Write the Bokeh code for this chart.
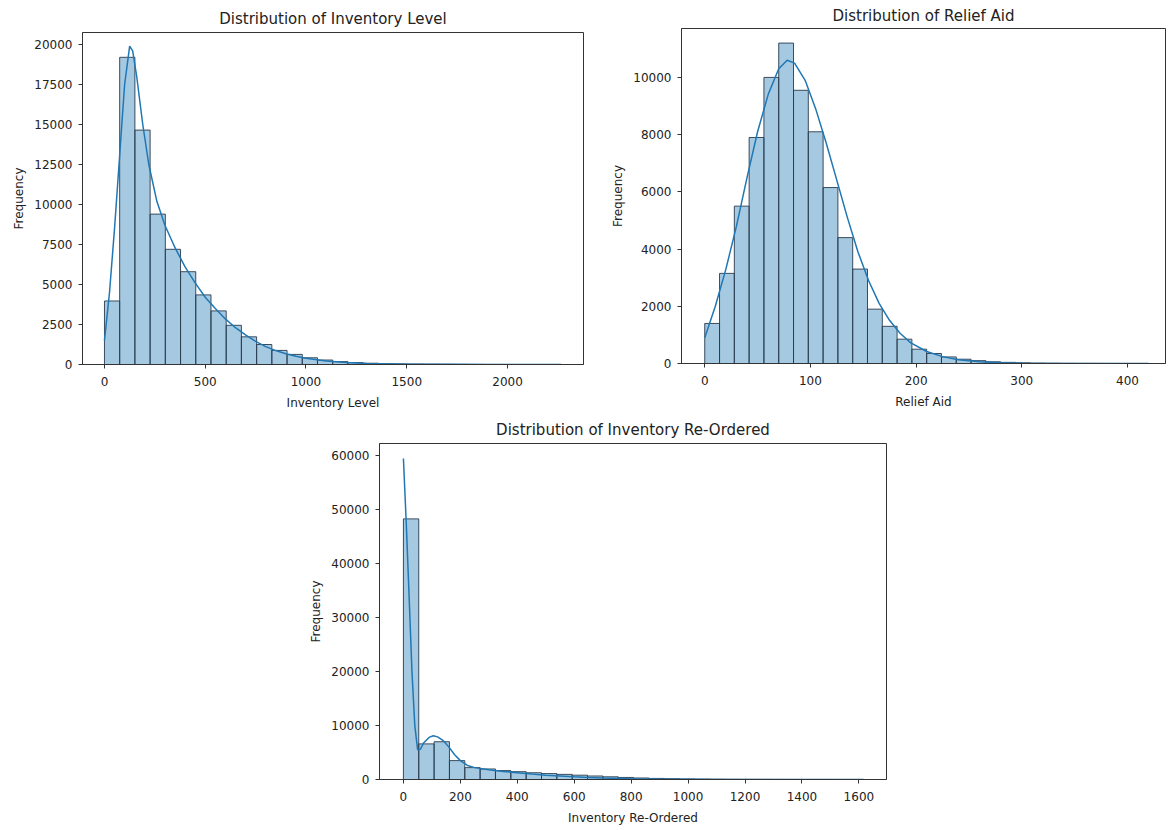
import numpy as np
from bokeh.plotting import figure
from bokeh.models import ColumnDataSource, Range1d, FixedTicker, Spacer, NumeralTickFormatter
from bokeh.layouts import column, row
from bokeh.embed import file_html
from bokeh.resources import INLINE

# ---------------- data ----------------
# Inventory Level (30 bins)
inv_min, inv_max = 0, 2265
inv_counts = [3970, 19200, 14650, 9400, 7200, 5800, 4350, 3350, 2450, 1730,
              1250, 880, 630, 420, 280, 180, 120, 80, 50, 35,
              25, 15, 10, 8, 5, 3, 2, 1, 1, 1]
inv_kde_x = [0, 25, 50, 75, 100, 125, 140, 160, 190, 220, 260, 300, 350, 400, 450,
             500, 550, 600, 650, 700, 750, 800, 850, 900, 950, 1000, 1100, 1200,
             1300, 1400, 1500, 1700, 1900, 2100, 2265]
inv_kde_y = [1500, 4500, 8500, 13000, 17500, 19900, 19600, 18000, 15000, 12500,
             10200, 8700, 7300, 6100, 5100, 4200, 3500, 2850, 2300, 1850, 1450,
             1120, 870, 670, 510, 390, 220, 125, 70, 40, 22, 8, 3, 1, 0.5]

# Relief Aid (30 bins)
aid_min, aid_max = 0, 420
aid_counts = [1400, 3150, 5500, 7900, 10000, 11200, 9550, 8100, 6150, 4400,
              3300, 1900, 1300, 850, 500, 350, 230, 150, 100, 60,
              40, 25, 15, 10, 6, 4, 3, 2, 1, 1]
aid_kde_x = [0, 10, 20, 30, 40, 50, 60, 70, 78, 85, 95, 105, 115, 125, 135, 145,
             155, 165, 175, 185, 195, 210, 225, 240, 260, 280, 300, 330, 360, 420]
aid_kde_y = [900, 2000, 3300, 4800, 6500, 8100, 9400, 10300, 10600, 10500, 9900,
             8900, 7700, 6400, 5100, 3900, 2900, 2100, 1500, 1050, 720, 420, 240,
             130, 60, 28, 12, 4, 1.5, 0.3]

# Inventory Re-Ordered (30 bins)
reo_min, reo_max = 0, 1617
reo_counts = [48300, 6600, 7000, 3500, 2200, 1950, 1650, 1450, 1250, 1100,
              950, 800, 650, 500, 380, 280, 200, 150, 100, 70,
              50, 35, 25, 18, 12, 8, 5, 3, 2, 1]
reo_kde_x = [0, 10, 20, 30, 40, 50, 60, 70, 90, 105, 120, 140, 160, 180, 200, 225,
             250, 300, 350, 400, 450, 500, 550, 600, 650, 700, 800, 900, 1000,
             1100, 1200, 1400, 1617]
reo_kde_y = [59500, 47500, 34000, 20000, 10000, 5500, 5600, 6700, 7800, 8100, 7900,
             7200, 6000, 4600, 3500, 2600, 2200, 1800, 1500, 1250, 1000, 800, 650,
             500, 380, 280, 150, 80, 40, 20, 10, 3, 1]

N_BINS = 30

FONT = "DejaVu Sans"
BAR_FILL = "#1f77b4"
LINE_C = "#1f77b4"
TXT = "#222222"


def make_hist(title, xlabel, dmin, dmax, counts, kx, ky, xr, yr, xticks, yticks,
              w, h, bl, br, bt, bb, tstand):
    p = figure(width=w, height=h,
               min_border_left=bl, min_border_right=br,
               min_border_top=bt, min_border_bottom=bb,
               x_range=Range1d(*xr), y_range=Range1d(*yr),
               output_backend="svg", toolbar_location=None, title=title)
    edges = np.linspace(dmin, dmax, N_BINS + 1)
    src = ColumnDataSource(dict(left=edges[:-1], right=edges[1:],
                                top=counts, bottom=[0] * len(counts)))
    p.quad(left="left", right="right", top="top", bottom="bottom", source=src,
           fill_color=BAR_FILL, fill_alpha=0.4, line_color="#2b3b4d",
           line_width=1, line_alpha=0.9)
    p.line(kx, ky, line_color=LINE_C, line_width=1.5)

    p.grid.visible = False
    p.background_fill_color = "white"
    p.border_fill_color = "white"
    p.outline_line_color = "#333333"
    p.outline_line_width = 1
    p.outline_line_alpha = 1

    p.title.align = "center"
    p.title.text_font = FONT
    p.title.text_font_size = "15px"
    p.title.text_font_style = "normal"
    p.title.text_color = TXT
    p.title.standoff = tstand

    p.xaxis.ticker = FixedTicker(ticks=xticks)
    p.yaxis.ticker = FixedTicker(ticks=yticks)
    p.xaxis.formatter = NumeralTickFormatter(format="0")
    p.yaxis.formatter = NumeralTickFormatter(format="0")
    p.xaxis.axis_label = xlabel
    p.yaxis.axis_label = "Frequency"
    for ax in (p.xaxis, p.yaxis):
        ax.axis_line_color = "#333333"
        ax.major_tick_line_color = "#333333"
        ax.major_tick_out = 4
        ax.major_tick_in = 0
        ax.minor_tick_out = 0
        ax.minor_tick_in = 0
        ax.major_label_text_font = FONT
        ax.major_label_text_font_size = "12px"
        ax.major_label_text_color = TXT
        ax.axis_label_text_font = FONT
        ax.axis_label_text_font_size = "12px"
        ax.axis_label_text_font_style = "normal"
        ax.axis_label_text_color = TXT
    p.xaxis.major_label_standoff = 8
    p.xaxis.axis_label_standoff = 7
    p.yaxis.major_label_standoff = 6
    p.yaxis.axis_label_standoff = 5
    p.yaxis.major_label_orientation = "horizontal"
    return p


# frame sizes: p1 501x332, p2 484x336, p3 507x337
p1 = make_hist("Distribution of Inventory Level", "Inventory Level",
               inv_min, inv_max, inv_counts, inv_kde_x, inv_kde_y,
               (-109, 2377), (0, 20750),
               [0, 500, 1000, 1500, 2000],
               [0, 2500, 5000, 7500, 10000, 12500, 15000, 17500, 20000],
               593, 414, 82, 10, 32, 50, 10)

p2 = make_hist("Distribution of Relief Aid", "Relief Aid",
               aid_min, aid_max, aid_counts, aid_kde_x, aid_kde_y,
               (-22, 436), (0, 11710),
               [0, 100, 200, 300, 400],
               [0, 2000, 4000, 6000, 8000, 10000],
               580, 414, 88, 8, 27, 51, 8)

p3 = make_hist("Distribution of Inventory Re-Ordered", "Inventory Re-Ordered",
               reo_min, reo_max, reo_counts, reo_kde_x, reo_kde_y,
               (-84, 1697), (0, 62270),
               [0, 200, 400, 600, 800, 1000, 1200, 1400, 1600],
               [0, 10000, 20000, 30000, 40000, 50000, 60000],
               591, 415, 74, 10, 28, 50, 9)

layout = column(row(p1, column(p2)), row(Spacer(width=305, height=10), p3))

open("out.html", "w").write(file_html(layout, INLINE))
